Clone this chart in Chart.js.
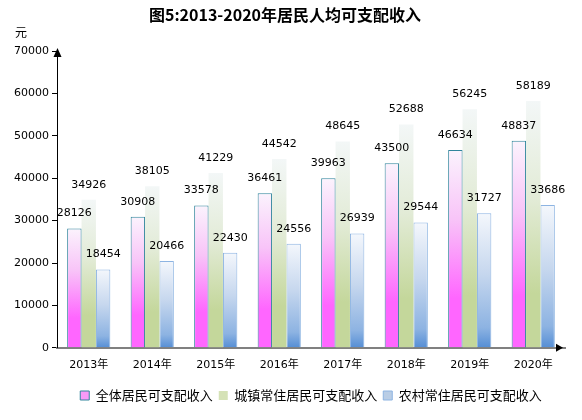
<!DOCTYPE html>
<html>
<head>
<meta charset="utf-8">
<title>图5:2013-2020年居民人均可支配收入</title>
<script src="https://cdn.jsdelivr.net/npm/chart.js@4/dist/chart.umd.min.js"></script>
<style>
  body { margin: 0; background: #fff; }
  canvas { display: block; }
</style>
</head>
<body>
<canvas id="grafico" width="582" height="420"></canvas>
<script>
const years = ['2013年', '2014年', '2015年', '2016年', '2017年', '2018年', '2019年', '2020年'];
const allResidents = [28126, 30908, 33578, 36461, 39963, 43500, 46634, 48837];
const urbanResidents = [34926, 38105, 41229, 44542, 48645, 52688, 56245, 58189];
const ruralResidents = [18454, 20466, 22430, 24556, 26939, 29544, 31727, 33686];
const seriesNames = ['全体居民可支配收入', '城镇常住居民可支配收入', '农村常住居民可支配收入'];
const yTicks = [0, 10000, 20000, 30000, 40000, 50000, 60000, 70000];

const FONT = "'DejaVu Sans', 'Noto Sans CJK SC', sans-serif";
const legendFills = ['#F99AF9', '#D5E2B6', '#B9CDE5'];

// gradient per bar, from its top down to the zero line
function barGradient(stops, fallback) {
  return (c) => {
    const chart = c.chart;
    if (c.type !== 'data' || !chart.chartArea || !chart.scales.y) return fallback;
    const y = chart.scales.y;
    const top = y.getPixelForValue(c.raw);
    const bottom = y.getPixelForValue(0);
    if (!isFinite(top) || bottom - top < 1) return fallback;
    const g = chart.ctx.createLinearGradient(0, top, 0, bottom);
    stops.forEach(([p, col]) => g.addColorStop(p, col));
    return g;
  };
}

const decorations = {
  id: 'decorations',
  afterDraw(chart) {
    const { ctx, chartArea } = chart;
    ctx.save();
    // title
    ctx.fillStyle = '#000';
    ctx.font = "bold 16px 'Noto Sans CJK SC', sans-serif";
    ctx.textAlign = 'center';
    ctx.textBaseline = 'middle';
    ctx.fillText('图5:2013-2020年居民人均可支配收入', 285, 15);
    // unit
    ctx.font = "12px 'Noto Sans CJK SC', sans-serif";
    ctx.textAlign = 'left';
    ctx.fillText('元', 15, 32);
    // axis arrows
    const x0 = chartArea.left + 0.5;
    ctx.beginPath();
    ctx.moveTo(x0, chartArea.top - 3);
    ctx.lineTo(x0 - 4, chartArea.top + 6);
    ctx.lineTo(x0 + 4, chartArea.top + 6);
    ctx.closePath();
    ctx.fill();
    const yb = chartArea.bottom;
    ctx.beginPath();
    ctx.moveTo(chartArea.right - 2, yb);
    ctx.lineTo(chartArea.right - 9, yb - 4);
    ctx.lineTo(chartArea.right - 9, yb + 4);
    ctx.closePath();
    ctx.fill();
    ctx.restore();
  },
  afterDatasetsDraw(chart) {
    const ctx = chart.ctx;
    ctx.save();
    ctx.fillStyle = '#000';
    ctx.font = '11px ' + FONT;
    ctx.textAlign = 'center';
    ctx.textBaseline = 'middle';
    chart.data.datasets.forEach((ds, i) => {
      chart.getDatasetMeta(i).data.forEach((bar, j) => {
        ctx.fillText(String(ds.data[j]), bar.x, bar.y - 15);
      });
    });
    ctx.restore();
  }
};

new Chart(document.getElementById('grafico').getContext('2d'), {
  type: 'bar',
  data: {
    labels: years,
    datasets: [
      {
        label: seriesNames[0],
        data: allResidents,
        backgroundColor: barGradient([[0, '#FBF3FD'], [0.35, '#F8C4F8'], [0.75, '#FF66FF'], [1, '#FF66FF']], '#FB8CFB'),
        borderColor: '#31859C',
        borderWidth: 1
      },
      {
        label: seriesNames[1],
        data: urbanResidents,
        backgroundColor: barGradient([[0, '#F3F7F7'], [0.4, '#E2EBD6'], [0.78, '#C4D79B'], [1, '#C4D79B']], '#CCDDA8'),
        borderColor: '#C4D79B',
        borderWidth: 0
      },
      {
        label: seriesNames[2],
        data: ruralResidents,
        backgroundColor: barGradient([[0, '#F4F7FC'], [0.45, '#C6D7EE'], [0.85, '#8DB3E2'], [1, '#558ED5']], '#B9CDE5'),
        borderColor: '#8DB4E2',
        borderWidth: 1
      }
    ]
  },
  options: {
    responsive: false,
    animation: false,
    devicePixelRatio: 1,
    layout: { padding: { top: 51, right: 17, bottom: 8, left: 0 } },
    datasets: {
      bar: { categoryPercentage: 0.68, barPercentage: 1.0 }
    },
    scales: {
      x: {
        grid: { drawOnChartArea: false, drawTicks: false },
        border: { color: '#808080', width: 2 },
        ticks: { color: '#000', font: { family: FONT, size: 11 }, padding: 11, maxRotation: 0 },
        afterFit(scale) { scale.height = 35.2; }
      },
      y: {
        min: 0,
        max: 70000,
        afterBuildTicks(scale) { scale.ticks = yTicks.map(v => ({ value: v })); },
        grid: { drawOnChartArea: false, drawTicks: true, tickLength: 5, color: '#000' },
        border: { color: '#000', width: 1 },
        ticks: { color: '#000', font: { family: FONT, size: 11 }, padding: 3, callback: v => String(v) },
        afterFit(scale) { scale.width = 57; }
      }
    },
    plugins: {
      title: { display: false },
      tooltip: { enabled: false },
      legend: {
        position: 'bottom',
        fullSize: false,
        labels: {
          color: '#000',
          boxWidth: 9,
          boxHeight: 9,
          padding: 6,
          font: { family: "'Noto Sans CJK SC', sans-serif", size: 13 },
          generateLabels(chart) {
            const items = Chart.defaults.plugins.legend.labels.generateLabels(chart);
            items.forEach((it, i) => {
              it.fillStyle = legendFills[i];
              it.lineWidth = i === 1 ? 0 : 1;
            });
            return items;
          }
        }
      }
    }
  },
  plugins: [decorations]
});
</script>
</body>
</html>
